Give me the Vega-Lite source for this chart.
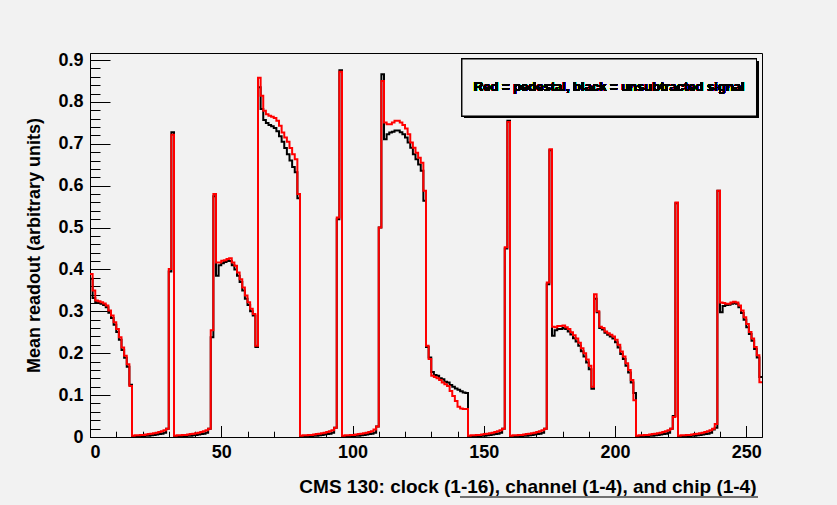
{
"$schema":"https://vega.github.io/schema/vega-lite/v6.json",
"width":672,"height":384,
"autosize":{"type":"none"},
"padding":{"left":90,"top":53,"right":75,"bottom":68},
"background":"#f2f2f2",
"config":{"view":{"stroke":"#000000","strokeWidth":1},"axis":{"grid":false,"labelFont":"Liberation Sans","titleFont":"Liberation Sans","labelFontWeight":"bold","titleFontWeight":"bold","labelColor":"#000000","titleColor":"#000000","domainColor":"#000000","tickColor":"#000000","tickWidth":1,"domainWidth":1}},
"data":{"values":[
{"bin":0,"black":0.378,"red":0.389},{"bin":1,"black":0.332,"red":0.350},{"bin":2,"black":0.322,"red":0.326},{"bin":3,"black":0.320,"red":0.324},{"bin":4,"black":0.318,"red":0.322},{"bin":5,"black":0.315,"red":0.319},{"bin":6,"black":0.310,"red":0.314},{"bin":7,"black":0.297,"red":0.302},{"bin":8,"black":0.284,"red":0.290},{"bin":9,"black":0.268,"red":0.274},{"bin":10,"black":0.251,"red":0.258},{"bin":11,"black":0.232,"red":0.238},{"bin":12,"black":0.208,"red":0.214},{"bin":13,"black":0.189,"red":0.194},{"bin":14,"black":0.168,"red":0.174},{"bin":15,"black":0.125,"red":0.122},
{"bin":16,"black":0.001,"red":0.003},{"bin":17,"black":0.001,"red":0.004},{"bin":18,"black":0.002,"red":0.004},{"bin":19,"black":0.002,"red":0.005},{"bin":20,"black":0.002,"red":0.005},{"bin":21,"black":0.003,"red":0.006},{"bin":22,"black":0.003,"red":0.007},{"bin":23,"black":0.004,"red":0.008},{"bin":24,"black":0.005,"red":0.009},{"bin":25,"black":0.006,"red":0.010},{"bin":26,"black":0.007,"red":0.012},{"bin":27,"black":0.008,"red":0.014},{"bin":28,"black":0.010,"red":0.016},{"bin":29,"black":0.020,"red":0.020},
{"bin":30,"black":0.395,"red":0.401},{"bin":31,"black":0.728,"red":0.722},
{"bin":32,"black":0.001,"red":0.003},{"bin":33,"black":0.001,"red":0.004},{"bin":34,"black":0.002,"red":0.004},{"bin":35,"black":0.002,"red":0.005},{"bin":36,"black":0.002,"red":0.005},{"bin":37,"black":0.003,"red":0.006},{"bin":38,"black":0.003,"red":0.007},{"bin":39,"black":0.004,"red":0.008},{"bin":40,"black":0.005,"red":0.009},{"bin":41,"black":0.006,"red":0.010},{"bin":42,"black":0.007,"red":0.012},{"bin":43,"black":0.008,"red":0.014},{"bin":44,"black":0.010,"red":0.016},{"bin":45,"black":0.020,"red":0.020},
{"bin":46,"black":0.238,"red":0.255},{"bin":47,"black":0.575,"red":0.580},
{"bin":48,"black":0.385,"red":0.417},{"bin":49,"black":0.410,"red":0.417},{"bin":50,"black":0.415,"red":0.421},{"bin":51,"black":0.418,"red":0.422},{"bin":52,"black":0.420,"red":0.425},{"bin":53,"black":0.420,"red":0.427},{"bin":54,"black":0.410,"red":0.417},{"bin":55,"black":0.400,"red":0.409},{"bin":56,"black":0.385,"red":0.393},{"bin":57,"black":0.370,"red":0.377},{"bin":58,"black":0.350,"red":0.357},{"bin":59,"black":0.330,"red":0.338},{"bin":60,"black":0.315,"red":0.322},{"bin":61,"black":0.300,"red":0.306},{"bin":62,"black":0.290,"red":0.294},{"bin":63,"black":0.215,"red":0.218},
{"bin":64,"black":0.835,"red":0.858},{"bin":65,"black":0.783,"red":0.815},{"bin":66,"black":0.757,"red":0.779},{"bin":67,"black":0.750,"red":0.771},{"bin":68,"black":0.745,"red":0.767},{"bin":69,"black":0.742,"red":0.765},{"bin":70,"black":0.738,"red":0.762},{"bin":71,"black":0.730,"red":0.755},{"bin":72,"black":0.718,"red":0.743},{"bin":73,"black":0.705,"red":0.727},{"bin":74,"black":0.690,"red":0.715},{"bin":75,"black":0.675,"red":0.705},{"bin":76,"black":0.660,"red":0.690},{"bin":77,"black":0.645,"red":0.675},{"bin":78,"black":0.632,"red":0.663},{"bin":79,"black":0.570,"red":0.580},
{"bin":80,"black":0.001,"red":0.003},{"bin":81,"black":0.001,"red":0.004},{"bin":82,"black":0.002,"red":0.004},{"bin":83,"black":0.002,"red":0.005},{"bin":84,"black":0.002,"red":0.005},{"bin":85,"black":0.003,"red":0.006},{"bin":86,"black":0.003,"red":0.007},{"bin":87,"black":0.004,"red":0.008},{"bin":88,"black":0.005,"red":0.009},{"bin":89,"black":0.006,"red":0.010},{"bin":90,"black":0.007,"red":0.012},{"bin":91,"black":0.008,"red":0.014},{"bin":92,"black":0.010,"red":0.016},{"bin":93,"black":0.022,"red":0.022},
{"bin":94,"black":0.520,"red":0.524},{"bin":95,"black":0.876,"red":0.872},
{"bin":96,"black":0.001,"red":0.003},{"bin":97,"black":0.001,"red":0.004},{"bin":98,"black":0.002,"red":0.004},{"bin":99,"black":0.002,"red":0.005},{"bin":100,"black":0.002,"red":0.005},{"bin":101,"black":0.003,"red":0.006},{"bin":102,"black":0.003,"red":0.007},{"bin":103,"black":0.004,"red":0.008},{"bin":104,"black":0.005,"red":0.009},{"bin":105,"black":0.006,"red":0.010},{"bin":106,"black":0.007,"red":0.012},{"bin":107,"black":0.008,"red":0.014},{"bin":108,"black":0.010,"red":0.018},{"bin":109,"black":0.025,"red":0.025},
{"bin":110,"black":0.500,"red":0.500},{"bin":111,"black":0.866,"red":0.850},
{"bin":112,"black":0.711,"red":0.751},{"bin":113,"black":0.723,"red":0.747},{"bin":114,"black":0.727,"red":0.747},{"bin":115,"black":0.729,"red":0.751},{"bin":116,"black":0.732,"red":0.755},{"bin":117,"black":0.732,"red":0.755},{"bin":118,"black":0.728,"red":0.751},{"bin":119,"black":0.723,"red":0.745},{"bin":120,"black":0.715,"red":0.737},{"bin":121,"black":0.703,"red":0.723},{"bin":122,"black":0.691,"red":0.703},{"bin":123,"black":0.675,"red":0.691},{"bin":124,"black":0.663,"red":0.679},{"bin":125,"black":0.651,"red":0.667},{"bin":126,"black":0.636,"red":0.655},{"bin":127,"black":0.564,"red":0.588},
{"bin":128,"black":0.215,"red":0.218},{"bin":129,"black":0.190,"red":0.186},{"bin":130,"black":0.155,"red":0.146},{"bin":131,"black":0.148,"red":0.143},{"bin":132,"black":0.146,"red":0.140},{"bin":133,"black":0.140,"red":0.136},{"bin":134,"black":0.138,"red":0.130},{"bin":135,"black":0.132,"red":0.126},{"bin":136,"black":0.130,"red":0.122},{"bin":137,"black":0.124,"red":0.110},{"bin":138,"black":0.120,"red":0.098},{"bin":139,"black":0.116,"red":0.086},{"bin":140,"black":0.113,"red":0.072},{"bin":141,"black":0.109,"red":0.068},{"bin":142,"black":0.106,"red":0.067},{"bin":143,"black":0.105,"red":0.067},
{"bin":144,"black":0.001,"red":0.003},{"bin":145,"black":0.001,"red":0.004},{"bin":146,"black":0.002,"red":0.004},{"bin":147,"black":0.002,"red":0.005},{"bin":148,"black":0.002,"red":0.005},{"bin":149,"black":0.003,"red":0.006},{"bin":150,"black":0.003,"red":0.007},{"bin":151,"black":0.004,"red":0.008},{"bin":152,"black":0.005,"red":0.009},{"bin":153,"black":0.006,"red":0.010},{"bin":154,"black":0.007,"red":0.012},{"bin":155,"black":0.008,"red":0.014},{"bin":156,"black":0.010,"red":0.016},{"bin":157,"black":0.020,"red":0.020},
{"bin":158,"black":0.450,"red":0.453},{"bin":159,"black":0.755,"red":0.752},
{"bin":160,"black":0.001,"red":0.003},{"bin":161,"black":0.001,"red":0.004},{"bin":162,"black":0.002,"red":0.004},{"bin":163,"black":0.002,"red":0.005},{"bin":164,"black":0.002,"red":0.005},{"bin":165,"black":0.003,"red":0.006},{"bin":166,"black":0.003,"red":0.007},{"bin":167,"black":0.004,"red":0.008},{"bin":168,"black":0.005,"red":0.009},{"bin":169,"black":0.006,"red":0.010},{"bin":170,"black":0.007,"red":0.012},{"bin":171,"black":0.008,"red":0.014},{"bin":172,"black":0.010,"red":0.016},{"bin":173,"black":0.020,"red":0.020},
{"bin":174,"black":0.365,"red":0.369},{"bin":175,"black":0.685,"red":0.687},
{"bin":176,"black":0.242,"red":0.263},{"bin":177,"black":0.255,"red":0.262},{"bin":178,"black":0.258,"red":0.265},{"bin":179,"black":0.258,"red":0.265},{"bin":180,"black":0.260,"red":0.266},{"bin":181,"black":0.258,"red":0.262},{"bin":182,"black":0.252,"red":0.258},{"bin":183,"black":0.245,"red":0.250},{"bin":184,"black":0.236,"red":0.243},{"bin":185,"black":0.228,"red":0.235},{"bin":186,"black":0.218,"red":0.225},{"bin":187,"black":0.205,"red":0.212},{"bin":188,"black":0.192,"red":0.200},{"bin":189,"black":0.178,"red":0.185},{"bin":190,"black":0.162,"red":0.170},{"bin":191,"black":0.115,"red":0.120},
{"bin":192,"black":0.330,"red":0.341},{"bin":193,"black":0.298,"red":0.300},{"bin":194,"black":0.260,"red":0.263},{"bin":195,"black":0.257,"red":0.260},{"bin":196,"black":0.249,"red":0.252},{"bin":197,"black":0.244,"red":0.248},{"bin":198,"black":0.240,"red":0.244},{"bin":199,"black":0.235,"red":0.240},{"bin":200,"black":0.226,"red":0.232},{"bin":201,"black":0.214,"red":0.220},{"bin":202,"black":0.198,"red":0.204},{"bin":203,"black":0.186,"red":0.192},{"bin":204,"black":0.170,"red":0.176},{"bin":205,"black":0.154,"red":0.160},{"bin":206,"black":0.130,"red":0.136},{"bin":207,"black":0.105,"red":0.088},
{"bin":208,"black":0.001,"red":0.003},{"bin":209,"black":0.001,"red":0.004},{"bin":210,"black":0.002,"red":0.004},{"bin":211,"black":0.002,"red":0.005},{"bin":212,"black":0.002,"red":0.005},{"bin":213,"black":0.003,"red":0.006},{"bin":214,"black":0.003,"red":0.007},{"bin":215,"black":0.004,"red":0.008},{"bin":216,"black":0.005,"red":0.009},{"bin":217,"black":0.006,"red":0.010},{"bin":218,"black":0.007,"red":0.012},{"bin":219,"black":0.008,"red":0.014},{"bin":220,"black":0.010,"red":0.016},{"bin":221,"black":0.020,"red":0.020},
{"bin":222,"black":0.050,"red":0.048},{"bin":223,"black":0.558,"red":0.560},
{"bin":224,"black":0.001,"red":0.003},{"bin":225,"black":0.001,"red":0.004},{"bin":226,"black":0.002,"red":0.004},{"bin":227,"black":0.002,"red":0.005},{"bin":228,"black":0.002,"red":0.005},{"bin":229,"black":0.003,"red":0.006},{"bin":230,"black":0.003,"red":0.007},{"bin":231,"black":0.004,"red":0.008},{"bin":232,"black":0.005,"red":0.009},{"bin":233,"black":0.006,"red":0.010},{"bin":234,"black":0.007,"red":0.012},{"bin":235,"black":0.008,"red":0.014},{"bin":236,"black":0.010,"red":0.016},{"bin":237,"black":0.018,"red":0.020},
{"bin":238,"black":0.022,"red":0.031},{"bin":239,"black":0.588,"red":0.588},
{"bin":240,"black":0.298,"red":0.321},{"bin":241,"black":0.313,"red":0.320},{"bin":242,"black":0.315,"red":0.318},{"bin":243,"black":0.316,"red":0.318},{"bin":244,"black":0.318,"red":0.321},{"bin":245,"black":0.320,"red":0.323},{"bin":246,"black":0.318,"red":0.321},{"bin":247,"black":0.310,"red":0.314},{"bin":248,"black":0.296,"red":0.302},{"bin":249,"black":0.280,"red":0.286},{"bin":250,"black":0.262,"red":0.270},{"bin":251,"black":0.246,"red":0.251},{"bin":252,"black":0.230,"red":0.235},{"bin":253,"black":0.210,"red":0.215},{"bin":254,"black":0.190,"red":0.195},{"bin":255,"black":0.143,"red":0.131},
{"bin":256,"black":0.143,"red":0.131}
]},
"resolve":{"scale":{"x":"independent","y":"independent"}},
"layer":[
{"mark":{"type":"line","interpolate":"step-after","color":"#000000","strokeWidth":2,"clip":true},
 "encoding":{
  "x":{"field":"bin","type":"quantitative","scale":{"domain":[0,256],"nice":false,"zero":false},
       "axis":{"values":[0,50,100,150,200,250],"format":"d","tickSize":-11.5,"labelPadding":17.5,"labelFontSize":18,
               "title":"CMS 130: clock (1-16), channel (1-4), and chip (1-4)","titleFontSize":19,"titleAlign":"right","titleBaseline":"alphabetic","titleX":666,"titleY":55}},
  "y":{"field":"black","type":"quantitative","scale":{"domain":[0,0.917],"nice":false,"zero":false},
       "axis":{"values":[0,0.1,0.2,0.3,0.4,0.5,0.6,0.7,0.8,0.9],"labelExpr":"datum.value == 0 ? '0' : format(datum.value, '.1f')","tickSize":-20,"labelPadding":27,"labelFontSize":18,
               "title":"Mean readout (arbitrary units)","titleFontSize":18,"titleAngle":-90,"titleAlign":"center","titleBaseline":"alphabetic","titleX":-51,"titleY":192}}
 }},
{"mark":{"type":"line","interpolate":"step-after","color":"#ff0000","strokeWidth":2,"clip":true},
 "encoding":{
  "x":{"field":"bin","type":"quantitative","scale":{"domain":[0,256],"nice":false,"zero":false},
       "axis":{"orient":"bottom","values":[0,10,20,30,40,60,70,80,90,110,120,130,140,160,170,180,190,210,220,230,240],"tickSize":-5.8,"labels":false,"domain":false,"title":null}},
  "y":{"field":"red","type":"quantitative","scale":{"domain":[0,0.917],"nice":false,"zero":false},
       "axis":{"orient":"left","values":[0.02,0.04,0.06,0.08,0.12,0.14,0.16,0.18,0.22,0.24,0.26,0.28,0.32,0.34,0.36,0.38,0.42,0.44,0.46,0.48,0.52,0.54,0.56,0.58,0.62,0.64,0.66,0.68,0.72,0.74,0.76,0.78,0.82,0.84,0.86,0.88],"tickSize":-10,"labels":false,"domain":false,"title":null}}
 }},
{"mark":{"type":"rect","color":"#000000"},
 "encoding":{
  "x":{"datum":142.5,"type":"quantitative","scale":{"domain":[0,256]},"axis":null},
  "x2":{"datum":254.7},
  "y":{"datum":0.898,"type":"quantitative","scale":{"domain":[0,0.917]},"axis":null},
  "y2":{"datum":0.7618}
 }},
{"mark":{"type":"rect","fill":"#f2f2f2","stroke":"#000000","strokeWidth":1},
 "encoding":{
  "x":{"datum":141.7,"type":"quantitative","scale":{"domain":[0,256]},"axis":null},
  "x2":{"datum":253.9},
  "y":{"datum":0.9027,"type":"quantitative","scale":{"domain":[0,0.917]},"axis":null},
  "y2":{"datum":0.7666}
 }},
{"mark":{"type":"text","text":"Red = pedestal, black = unsubtracted signal","font":"Liberation Sans","fontWeight":"bold","fontSize":13,"align":"center","baseline":"middle","color":"#000000"},
 "encoding":{
  "x":{"datum":197.8,"type":"quantitative","scale":{"domain":[0,256]},"axis":null},
  "y":{"datum":0.8358,"type":"quantitative","scale":{"domain":[0,0.917]},"axis":null}
 }},
{"mark":{"type":"rule","color":"#707070","strokeWidth":2},
 "encoding":{
  "x":{"datum":141.3,"type":"quantitative","scale":{"domain":[0,256]},"axis":null},
  "x2":{"datum":254.2},
  "y":{"datum":-0.1433,"type":"quantitative","scale":{"domain":[0,0.917]},"axis":null}
 }}
]
}
